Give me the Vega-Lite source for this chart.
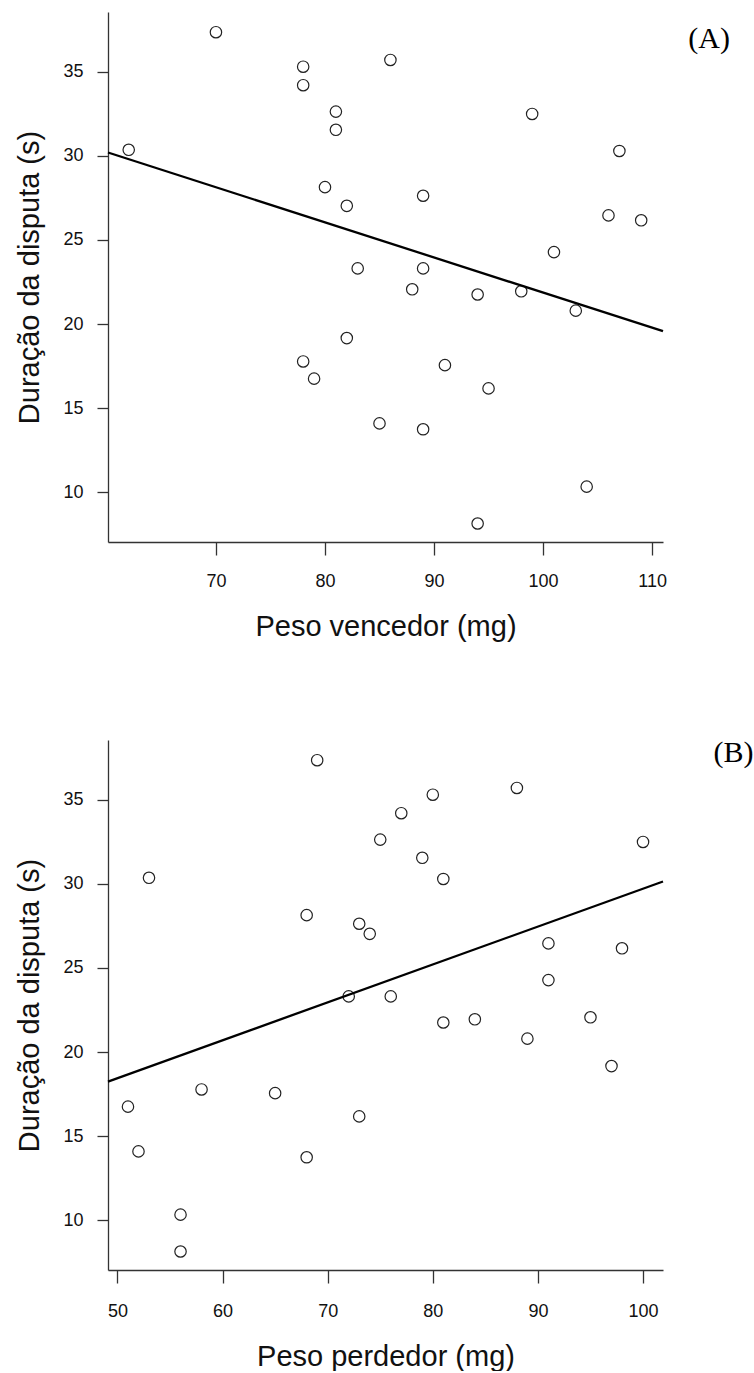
{
  "$schema": "https://vega.github.io/schema/vega-lite/v6.json",
  "background": "white",
  "padding": {"left": 15, "top": 12, "right": 0, "bottom": 0},
  "spacing": 97,
  "config": {
    "view": {"stroke": null},
    "font": "Liberation Sans",
    "axis": {
      "grid": false,
      "domainColor": "#333",
      "domainWidth": 1.3,
      "tickColor": "#333",
      "tickWidth": 1.3,
      "labelFont": "Liberation Sans",
      "labelFontSize": 18,
      "labelColor": "#111",
      "labelFlush": false,
      "labelOverlap": false,
      "titleFont": "Liberation Sans",
      "titleFontSize": 29,
      "titleFontWeight": "normal",
      "titleColor": "#111"
    },
    "axisX": {"tickSize": 13, "labelPadding": 17, "titlePadding": 22},
    "axisY": {"tickSize": 11, "labelPadding": 14, "titlePadding": 18}
  },
  "datasets": {
    "pts": [
      {"vencedor": 70, "perdedor": 69, "duracao": 37.35},
      {"vencedor": 86, "perdedor": 88, "duracao": 35.7},
      {"vencedor": 78, "perdedor": 80, "duracao": 35.3},
      {"vencedor": 78, "perdedor": 77, "duracao": 34.2},
      {"vencedor": 81, "perdedor": 75, "duracao": 32.63},
      {"vencedor": 99, "perdedor": 100, "duracao": 32.49},
      {"vencedor": 81, "perdedor": 79, "duracao": 31.55},
      {"vencedor": 62, "perdedor": 53, "duracao": 30.36},
      {"vencedor": 107, "perdedor": 81, "duracao": 30.29},
      {"vencedor": 80, "perdedor": 68, "duracao": 28.14},
      {"vencedor": 89, "perdedor": 73, "duracao": 27.63},
      {"vencedor": 82, "perdedor": 74, "duracao": 27.03},
      {"vencedor": 106, "perdedor": 91, "duracao": 26.46},
      {"vencedor": 109, "perdedor": 98, "duracao": 26.17},
      {"vencedor": 101, "perdedor": 91, "duracao": 24.28},
      {"vencedor": 83, "perdedor": 72, "duracao": 23.31},
      {"vencedor": 89, "perdedor": 76, "duracao": 23.31},
      {"vencedor": 88, "perdedor": 95, "duracao": 22.07},
      {"vencedor": 98, "perdedor": 84, "duracao": 21.95},
      {"vencedor": 94, "perdedor": 81, "duracao": 21.76},
      {"vencedor": 103, "perdedor": 89, "duracao": 20.8},
      {"vencedor": 82, "perdedor": 97, "duracao": 19.17},
      {"vencedor": 78, "perdedor": 58, "duracao": 17.78},
      {"vencedor": 91, "perdedor": 65, "duracao": 17.56},
      {"vencedor": 79, "perdedor": 51, "duracao": 16.76},
      {"vencedor": 95, "perdedor": 73, "duracao": 16.18},
      {"vencedor": 85, "perdedor": 52, "duracao": 14.1},
      {"vencedor": 89, "perdedor": 68, "duracao": 13.75},
      {"vencedor": 104, "perdedor": 56, "duracao": 10.34},
      {"vencedor": 94, "perdedor": 56, "duracao": 8.15}
    ],
    "lineA": [
      {"vencedor": 60.1, "duracao": 30.2},
      {"vencedor": 111, "duracao": 19.58}
    ],
    "lineB": [
      {"perdedor": 49.1, "duracao": 18.25},
      {"perdedor": 101.9, "duracao": 30.14}
    ]
  },
  "vconcat": [
    {
      "width": 555,
      "height": 530,
      "title": {"text": "(A)", "orient": "right", "anchor": "start", "angle": 0, "align": "left", "baseline": "middle", "offset": -21, "dy": 27, "font": "Liberation Serif", "fontSize": 30, "fontWeight": "normal", "color": "#000"},
      "layer": [
        {
          "data": {"name": "pts"},
          "mark": {"type": "point", "shape": "circle", "filled": false, "size": 130, "strokeWidth": 1.2, "color": "#222", "opacity": 1},
          "encoding": {
            "x": {"field": "vencedor", "type": "quantitative", "scale": {"domain": [60.1, 111], "nice": false, "zero": false}, "axis": {"values": [70, 80, 90, 100, 110], "title": "Peso vencedor (mg)", "labelFontSize": 18}},
            "y": {"field": "duracao", "type": "quantitative", "scale": {"domain": [7.05, 38.55], "nice": false, "zero": false}, "axis": {"values": [10, 15, 20, 25, 30, 35], "title": "Duração da disputa (s)", "labelFontSize": 18}}
          }
        },
        {
          "data": {"name": "lineA"},
          "mark": {"type": "line", "color": "#000", "strokeWidth": 2.3},
          "encoding": {
            "x": {"field": "vencedor", "type": "quantitative"},
            "y": {"field": "duracao", "type": "quantitative"}
          }
        }
      ]
    },
    {
      "width": 555,
      "height": 530,
      "title": {"text": "(B)", "orient": "right", "anchor": "start", "angle": 0, "align": "left", "baseline": "middle", "offset": 6, "dy": 13, "font": "Liberation Serif", "fontSize": 30, "fontWeight": "normal", "color": "#000"},
      "layer": [
        {
          "data": {"name": "pts"},
          "mark": {"type": "point", "shape": "circle", "filled": false, "size": 130, "strokeWidth": 1.2, "color": "#222", "opacity": 1},
          "encoding": {
            "x": {"field": "perdedor", "type": "quantitative", "scale": {"domain": [49.1, 101.9], "nice": false, "zero": false}, "axis": {"values": [50, 60, 70, 80, 90, 100], "title": "Peso perdedor (mg)", "labelPadding": 19, "labelFontSize": 18}},
            "y": {"field": "duracao", "type": "quantitative", "scale": {"domain": [7.05, 38.55], "nice": false, "zero": false}, "axis": {"values": [10, 15, 20, 25, 30, 35], "title": "Duração da disputa (s)", "labelFontSize": 18}}
          }
        },
        {
          "data": {"name": "lineB"},
          "mark": {"type": "line", "color": "#000", "strokeWidth": 2.3},
          "encoding": {
            "x": {"field": "perdedor", "type": "quantitative"},
            "y": {"field": "duracao", "type": "quantitative"}
          }
        }
      ]
    }
  ]
}
